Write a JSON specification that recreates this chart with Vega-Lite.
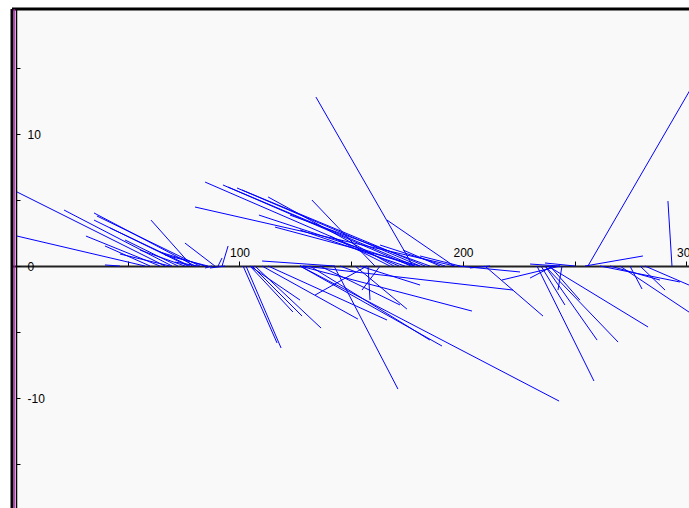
{
  "$schema": "https://vega.github.io/schema/vega-lite/v6.json",
  "width": 677,
  "height": 499,
  "autosize": {"type": "none"},
  "padding": {"left": 12, "top": 9, "right": 0, "bottom": 0},
  "background": "white",
  "config": {"view": {"fill": "#f9f9f9", "stroke": null}},
  "data": {"values": [
    {"t": 66.7, "u": 0.45, "v": 5.61},
    {"t": 57.7, "u": 0.45, "v": 2.27},
    {"t": 69.8, "u": 21.5, "v": 4.24},
    {"t": 80.1, "u": 34.9, "v": 4.02},
    {"t": 82.3, "u": 36.2, "v": 3.79},
    {"t": 77.0, "u": 34.9, "v": 3.48},
    {"t": 64.4, "u": 31.3, "v": 2.27},
    {"t": 60.0, "u": 39.8, "v": 1.52},
    {"t": 78.7, "u": 60.4, "v": 3.48},
    {"t": 89.0, "u": 75.6, "v": 1.74},
    {"t": 77.9, "u": 42.1, "v": 2.88},
    {"t": 72.5, "u": 48.8, "v": 1.97},
    {"t": 75.6, "u": 55.5, "v": 1.21},
    {"t": 84.6, "u": 64.4, "v": 1.06},
    {"t": 68.9, "u": 46.5, "v": 0.91},
    {"t": 90.4, "u": 92.2, "v": 0.61},
    {"t": 92.2, "u": 94.9, "v": 1.52},
    {"t": 87.7, "u": 84.6, "v": -0.15},
    {"t": 81.4, "u": 71.1, "v": 0.30},
    {"t": 85.9, "u": 66.7, "v": 0.83},
    {"t": 171.4, "u": 84.6, "v": 6.36},
    {"t": 176.7, "u": 92.6, "v": 6.14},
    {"t": 178.5, "u": 94.9, "v": 5.98},
    {"t": 180.8, "u": 98.9, "v": 5.91},
    {"t": 183.0, "u": 101.1, "v": 5.76},
    {"t": 196.4, "u": 80.1, "v": 4.47},
    {"t": 169.1, "u": 112.8, "v": 5.23},
    {"t": 160.6, "u": 132.4, "v": 5.0},
    {"t": 178.1, "u": 108.7, "v": 3.86},
    {"t": 180.8, "u": 115.9, "v": 2.95},
    {"t": 196.0, "u": 166.0, "v": 3.48},
    {"t": 177.6, "u": 134.2, "v": 12.80},
    {"t": 142.7, "u": 110.1, "v": 0.38},
    {"t": 189.7, "u": 173.2, "v": 1.21},
    {"t": 185.2, "u": 122.6, "v": 3.86},
    {"t": 174.0, "u": 127.1, "v": 2.73},
    {"t": 167.3, "u": 140.5, "v": 2.27},
    {"t": 192.0, "u": 162.9, "v": 1.59},
    {"t": 198.7, "u": 180.8, "v": 0.76},
    {"t": 255.9, "u": 304.7, "v": 14.24},
    {"t": 254.6, "u": 280.5, "v": 0.76},
    {"t": 293.5, "u": 291.7, "v": 4.92},
    {"t": 243.4, "u": 230.0, "v": 0.15},
    {"t": 250.1, "u": 236.7, "v": 0.23},
    {"t": 101.6, "u": 116.8, "v": -5.83},
    {"t": 102.9, "u": 118.6, "v": -6.21},
    {"t": 104.7, "u": 123.9, "v": -3.48},
    {"t": 105.6, "u": 128.0, "v": -3.79},
    {"t": 106.9, "u": 136.5, "v": -4.70},
    {"t": 110.1, "u": 153.0, "v": -4.02},
    {"t": 112.8, "u": 166.0, "v": -4.09},
    {"t": 127.1, "u": 190.6, "v": -6.06},
    {"t": 127.1, "u": 243.0, "v": -10.23},
    {"t": 142.3, "u": 170.9, "v": -9.32},
    {"t": 127.1, "u": 204.0, "v": -3.41},
    {"t": 128.4, "u": 222.4, "v": -1.82},
    {"t": 151.7, "u": 174.9, "v": -3.26},
    {"t": 157.0, "u": 133.8, "v": -2.20},
    {"t": 157.5, "u": 158.4, "v": -2.58},
    {"t": 153.9, "u": 180.8, "v": -1.44},
    {"t": 131.5, "u": 185.2, "v": -5.61},
    {"t": 136.0, "u": 171.8, "v": -2.95},
    {"t": 104.7, "u": 127.1, "v": -2.58},
    {"t": 145.0, "u": 152.1, "v": -0.45},
    {"t": 162.9, "u": 154.8, "v": -1.82},
    {"t": 209.8, "u": 235.8, "v": -3.79},
    {"t": 233.1, "u": 258.6, "v": -8.71},
    {"t": 236.7, "u": 260.0, "v": -5.61},
    {"t": 236.7, "u": 269.4, "v": -5.76},
    {"t": 238.0, "u": 282.8, "v": -4.62},
    {"t": 243.4, "u": 217.4, "v": -1.06},
    {"t": 234.9, "u": 245.6, "v": -2.95},
    {"t": 238.9, "u": 252.3, "v": -2.58},
    {"t": 240.3, "u": 230.0, "v": -0.91},
    {"t": 270.2, "u": 303.8, "v": -3.79},
    {"t": 279.2, "u": 290.4, "v": -1.82},
    {"t": 274.7, "u": 280.1, "v": -1.74},
    {"t": 281.4, "u": 301.1, "v": -1.44},
    {"t": 261.3, "u": 297.1, "v": -1.21},
    {"t": 265.8, "u": 288.1, "v": -1.06},
    {"t": 212.1, "u": 203.1, "v": -0.15},
    {"t": 197.8, "u": 225.5, "v": -0.45},
    {"t": 244.3, "u": 242.5, "v": -1.82},
    {"t": 46.5, "u": 39.8, "v": 0.08},
    {"t": 93.5, "u": 86.8, "v": -0.15}
  ]},
  "layer": [
    {
      "data": {"values": [{"edge": "top"}]},
      "mark": {"type": "rule", "color": "#000000", "strokeWidth": 3},
      "encoding": {"y": {"datum": 19.47, "type": "quantitative"}}
    },
    {
      "data": {"values": [{"edge": "left"}]},
      "mark": {"type": "rule", "color": "#000000", "strokeWidth": 3},
      "encoding": {"x": {"datum": -1.79, "type": "quantitative"}}
    },
    {
      "data": {"values": [{"edge": "inner"}]},
      "mark": {"type": "rule", "color": "#c000c0", "strokeWidth": 1.2},
      "encoding": {"x": {"datum": -0.81, "type": "quantitative"}}
    },
    {
      "mark": {"type": "rule", "color": "#0000ff", "strokeWidth": 1, "clip": true},
      "encoding": {
        "x": {
          "field": "u", "type": "quantitative",
          "scale": {"domain": [-1.79, 301.12], "nice": false, "zero": false},
          "axis": {
            "orient": "top", "offset": -257, "title": null, "grid": false,
            "values": [50, 100, 150, 200, 250, 300],
            "labelExpr": "datum.value % 100 == 0 ? format(datum.value, 'd') : ''",
            "tickSize": 5, "tickColor": "#000000", "tickWidth": 1,
            "domainColor": "#222222", "domainWidth": 1.8,
            "labelFont": "Liberation Sans", "labelFontSize": 12, "labelColor": "#000000",
            "labelPadding": 2, "labelDx": 5, "labelAlign": "center",
            "labelFlush": false, "labelOverlap": false, "labelBound": false
          }
        },
        "y": {
          "field": "v", "type": "quantitative",
          "scale": {"domain": [-18.33, 19.47], "nice": false, "zero": false},
          "axis": {
            "orient": "right", "offset": -673, "title": null, "grid": false,
            "values": [-15, -10, -5, 0, 5, 10, 15],
            "labelExpr": "datum.value == 10 ? '10' : datum.value == 0 ? '0' : datum.value == -10 ? '-10' : ''",
            "tickSize": 4, "tickColor": "#000000", "tickWidth": 1,
            "domainColor": "#000000", "domainWidth": 1.5,
            "labelFont": "Liberation Sans", "labelFontSize": 12, "labelColor": "#000000",
            "labelPadding": 7, "labelAlign": "left", "labelBaseline": "middle",
            "labelFlush": false, "labelOverlap": false, "labelBound": false
          }
        },
        "x2": {"field": "t"},
        "y2": {"datum": 0}
      }
    }
  ]
}
